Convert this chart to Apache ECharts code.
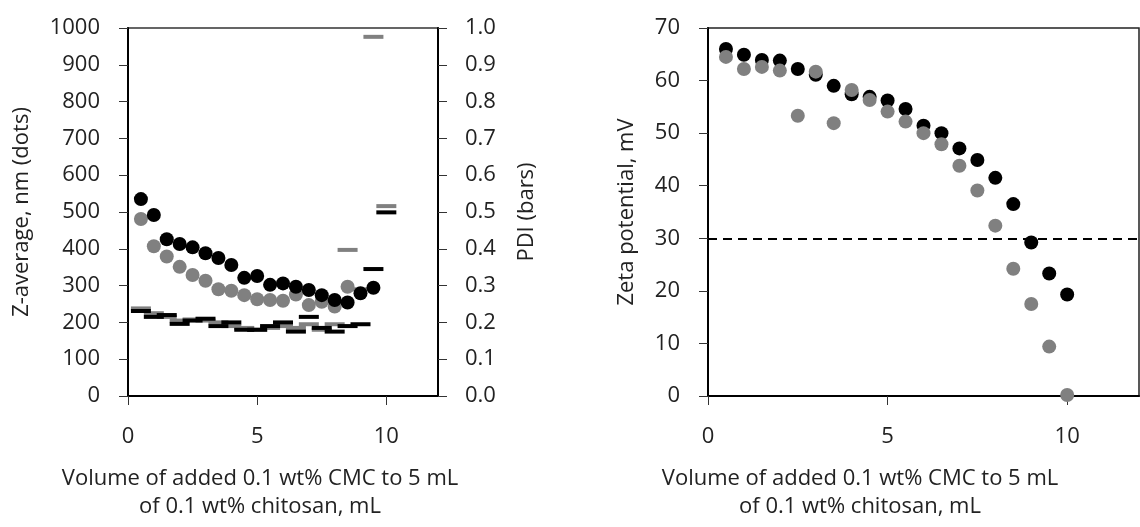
<!DOCTYPE html>
<html><head><meta charset="utf-8">
<script src="https://cdn.jsdelivr.net/npm/echarts@6/dist/echarts.min.js"></script>
<style>html,body{margin:0;padding:0;background:#fff}#c{width:1140px;height:527px}</style>
</head><body><div id="c"></div>
<script>
// volumes of added CMC (mL)
const volumes = [0.5,1,1.5,2,2.5,3,3.5,4,4.5,5,5.5,6,6.5,7,7.5,8,8.5,9,9.5,10];
// Z-average (nm) - dots
const zBlack = [535,492,426,413,404,388,375,356,321,326,302,306,297,288,274,261,254,279,294,null];
const zGrey  = [481,407,379,351,329,313,290,286,274,263,261,259,276,247,256,243,297,null,null,null];
// PDI - bars
const pdiBlack = [0.231,0.215,0.220,0.196,0.205,0.210,0.190,0.200,0.180,0.180,0.190,0.200,0.175,0.215,0.185,0.175,0.190,0.195,0.345,0.499];
const pdiGrey  = [0.238,0.225,0.215,0.205,0.208,0.205,0.200,0.190,0.185,0.180,0.185,0.190,0.185,0.195,0.180,0.195,0.397,0.290,0.976,0.516];
// Zeta potential (mV)
const zetaBlack = [66.0,64.9,63.9,63.8,62.2,61.1,59.0,57.4,56.9,56.2,54.6,51.4,50.0,47.1,44.9,41.5,36.5,29.2,23.3,19.3];
const zetaGrey  = [64.5,62.2,62.6,61.9,53.3,61.7,51.9,58.2,56.3,54.1,52.2,50.0,47.9,43.8,39.1,32.4,24.2,17.5,9.4,0.2];
const zetaThreshold = 30;
const xTicks = [0,5,10];
const xTitle = ['Volume of added 0.1 wt% CMC to 5 mL','of 0.1 wt% chitosan, mL'];

const pair = arr => volumes.map((v,i)=> arr[i]==null ? null : [v, arr[i]]).filter(p=>p);
const FONT = 'Open Sans';
const FS = 22;
const BLACK = '#000000', GREY = '#808080';

const tickStyle = {show:true, inside:false, length:9, lineStyle:{color:'#333', width:1}};
const lineStyle = {show:true, lineStyle:{color:'#000', width:2}};
const labelStyle = m => ({fontFamily:FONT, fontSize:FS, color:'#222', margin:m, formatter:v=>String(v)});
const xAxisCfg = g => ({gridIndex:g, type:'value', min:0, max:12, interval:5, axisLine:lineStyle,
  axisTick:Object.assign({}, tickStyle, {customValues:xTicks}),
  axisLabel:Object.assign(labelStyle(30), {customValues:xTicks}), splitLine:{show:false}});
const txt = (x,y,text,rot) => ({type:'text', x, y, rotation:rot||0, style:{text, font:FS+'px "'+FONT+'"', fill:'#222', textAlign:'center', textVerticalAlign:'middle'}});

const chart = echarts.init(document.getElementById('c'), null, {renderer:'canvas'});
chart.setOption({
  animation:false,
  grid:[
    {left:128, top:28, width:310, height:368, show:true, borderColor:'#333', borderWidth:1.5, backgroundColor:'transparent'},
    {left:708, top:28, width:431, height:368, show:true, borderColor:'#222', borderWidth:1.5, backgroundColor:'transparent'}
  ],
  xAxis:[xAxisCfg(0), xAxisCfg(1)],
  yAxis:[
    {gridIndex:0, type:'value', min:0, max:1000, interval:100, position:'left', axisLine:lineStyle, axisTick:tickStyle, axisLabel:labelStyle(28), splitLine:{show:false}},
    {gridIndex:0, type:'value', min:0, max:1, interval:0.1, position:'right', axisLine:lineStyle, axisTick:tickStyle, axisLabel:Object.assign(labelStyle(27),{formatter:v=>v.toFixed(1)}), splitLine:{show:false}},
    {gridIndex:1, type:'value', min:0, max:70, interval:10, position:'left', axisLine:lineStyle, axisTick:tickStyle, axisLabel:labelStyle(28), splitLine:{show:false}}
  ],
  series:[
    {type:'scatter', xAxisIndex:0, yAxisIndex:1, data:pair(pdiGrey), symbol:'rect', symbolSize:[20,4], itemStyle:{color:GREY, opacity:1}},
    {type:'scatter', xAxisIndex:0, yAxisIndex:1, data:pair(pdiBlack), symbol:'rect', symbolSize:[20,4], itemStyle:{color:BLACK, opacity:1}},
    {type:'scatter', xAxisIndex:0, yAxisIndex:0, data:pair(zGrey), symbol:'circle', symbolSize:14, itemStyle:{color:GREY, opacity:1}},
    {type:'scatter', xAxisIndex:0, yAxisIndex:0, data:pair(zBlack), symbol:'circle', symbolSize:14, itemStyle:{color:BLACK, opacity:1}},
    {type:'scatter', xAxisIndex:1, yAxisIndex:2, data:pair(zetaBlack), symbol:'circle', symbolSize:14, itemStyle:{color:BLACK, opacity:1},
      markLine:{silent:true, symbol:'none', label:{show:false}, lineStyle:{color:'#000', width:2, type:[9,6]}, data:[{yAxis:zetaThreshold}]}},
    {type:'scatter', xAxisIndex:1, yAxisIndex:2, data:pair(zetaGrey), symbol:'circle', symbolSize:14, itemStyle:{color:GREY, opacity:1}}
  ],
  graphic:[
    txt(22,212,'Z-average, nm (dots)',Math.PI/2),
    txt(527,212,'PDI (bars)',Math.PI/2),
    txt(627,212,'Zeta potential, mV',Math.PI/2),
    txt(260,479,xTitle[0]), txt(260,507,xTitle[1]),
    txt(860,479,xTitle[0]), txt(860,507,xTitle[1])
  ]
});
</script></body></html>
